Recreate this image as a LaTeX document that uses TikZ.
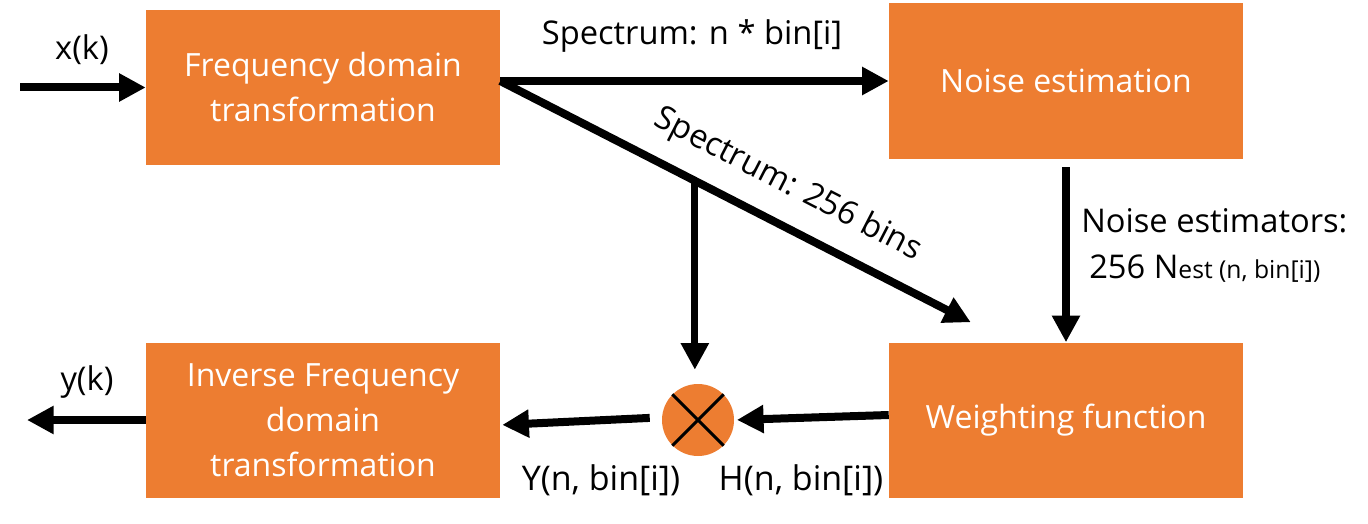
\documentclass[tikz,border=0pt]{standalone}
\usepackage{fontspec}
\setmainfont{Open Sans}
\usetikzlibrary{arrows.meta,calc}
\definecolor{boxorange}{HTML}{ED7D31}
\begin{document}
\begin{tikzpicture}[x=0.75pt,y=-0.75pt,
  blk/.style={rectangle, fill=boxorange, text=white, minimum width=265.5pt, minimum height=116.25pt, align=center, inner sep=0pt, font=\fontsize{24}{33.75}\selectfont},
  lbl/.style={text=black, inner sep=0pt, font=\fontsize{24.5}{28}\selectfont},
  flow/.style={line width=6pt, -{Triangle[length=20pt,width=20pt]}},
  mulnode/.style={circle, fill=boxorange, minimum size=54pt, inner sep=0pt},
]
\useasboundingbox (0,0) rectangle (1368,524);
% blocks
\node[blk] (fdt) at (323,87.5) {Frequency domain\\transformation};
\node[blk, minimum height=117pt] (ne) at (1066,81) {Noise estimation};
\node[blk] (wf) at (1066,420) {Weighting function};
\node[blk] (ifdt) at (323,420) {Inverse Frequency\\domain\\transformation};
\node[mulnode] (mul) at (698,420) {};
\draw[line width=2.25pt] (mul.north west) -- (mul.south east);
\draw[line width=2.25pt] (mul.north east) -- (mul.south west);
% coordinates
\coordinate (in) at (20,87.5);
\coordinate (out) at (27,420);
\coordinate (split) at (fdt.east |- ne.west);
\coordinate (diagtip) at ($(wf.north west)+(82,-20)$);
\coordinate (br) at ($(split)!0.4136!(diagtip)$);
% connectors
\draw[flow] (in) -- (fdt.west);
\draw[flow] (ifdt.west) -- (out);
\draw[flow] (split) -- (ne.west);
\draw[flow] (split) -- (diagtip);
\draw[flow, line width=5.25pt, shorten >=10.5pt] (br) -- (br |- mul.north);
\draw[flow, shorten <=6pt] (ne.south) -- (wf.north);
\draw[flow, shorten >=2pt] ([yshift=3.75pt]wf.west) -- (mul.east);
\draw[flow, shorten <=9pt, shorten >=1.5pt] ([yshift=2pt]mul.west) -- ([yshift=-3.75pt]ifdt.east);
% labels
\node[lbl, anchor=base] (lx) at (82,60) {x(k)};
\node[lbl, anchor=base] (ly) at (87,390) {y(k)};
\node[lbl, anchor=base] (lspec) at (692,45) {Spectrum: n * bin[i]};
\node[lbl, rotate=-27.3] (lbins) at (788,185) {Spectrum: 256 bins};
\node[lbl, anchor=base west] (lnoise1) at (1081,233) {Noise estimators:};
\node[lbl, anchor=base west] (lnoise2) at (1089,278) {256 N{\fontsize{18.5}{20}\selectfont est (n, bin[i])}};
\node[lbl, anchor=base, font=\fontsize{25.5}{28}\selectfont] (lY) at (601,490) {Y(n, bin[i])};
\node[lbl, anchor=base, font=\fontsize{25.5}{28}\selectfont] (lH) at (801,490) {H(n, bin[i])};
\end{tikzpicture}
\end{document}
